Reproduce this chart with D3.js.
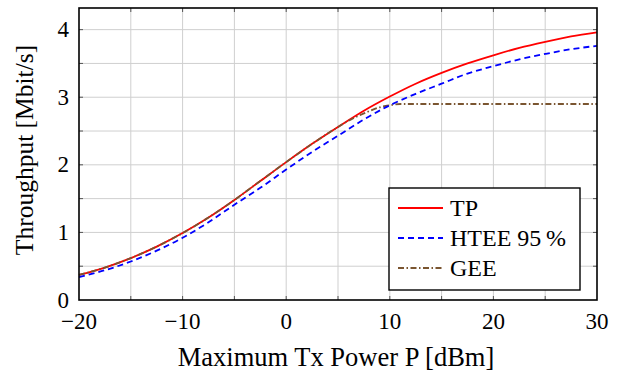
<!DOCTYPE html>
<html>
<head>
<meta charset="utf-8">
<script src="https://cdn.jsdelivr.net/npm/d3@7"></script>
</head>
<body style="margin:0">
<svg width="622" height="372"></svg>
<script>
var powerTP = [-20, -17.5, -15, -12.5, -10, -7.5, -5, -2.5, 0, 2.5, 5, 7.5, 10, 12.5, 15, 17.5, 20, 22.5, 25, 27.5, 30];
var throughputTP = [0.37, 0.48, 0.62, 0.79, 0.99, 1.22, 1.48, 1.76, 2.04, 2.31, 2.56, 2.80, 3.01, 3.20, 3.36, 3.50, 3.62, 3.73, 3.82, 3.90, 3.96];
var throughputHTEE = [0.34, 0.44, 0.57, 0.73, 0.92, 1.15, 1.41, 1.66, 1.93, 2.19, 2.43, 2.67, 2.88, 3.05, 3.20, 3.35, 3.46, 3.56, 3.64, 3.71, 3.76];
var powerGEE = [-20, -17.5, -15, -12.5, -10, -7.5, -5, -2.5, 0, 2.5, 5, 6, 7.5, 9, 10, 11, 12.5, 15, 20, 25, 30];
var throughputGEE = [0.37, 0.48, 0.62, 0.79, 0.99, 1.22, 1.48, 1.76, 2.04, 2.31, 2.56, 2.65, 2.76, 2.85, 2.88, 2.90, 2.90, 2.90, 2.90, 2.90, 2.90];

var seriesNames = ["TP", "HTEE 95\u2009%", "GEE"];
var xTicks = [-20, -10, 0, 10, 20, 30];
var yTicks = [0, 1, 2, 3, 4];

var svg = d3.select("svg");
var serif = "'Liberation Serif', monospace";

var xScale = d3.scaleLinear().domain([-20, 30]).range([79, 597]);
var yScale = d3.scaleLinear().domain([0, 4.32]).range([300, 8]);

drawGrid();
drawLines();
drawFrame();
drawLegend();

function drawGrid() {
  var xGrid = d3.range(-15, 30, 5);
  var yGrid = d3.range(0.5, 4.32, 0.5);

  svg.append("g").selectAll("line")
    .data(xGrid).enter()
    .append("line")
    .attr("x1", function (d) { return xScale(d); })
    .attr("x2", function (d) { return xScale(d); })
    .attr("y1", yScale.range()[0])
    .attr("y2", yScale.range()[1])
    .style("stroke", "#cfcfcf")
    .style("stroke-width", "1px");

  svg.append("g").selectAll("line")
    .data(yGrid).enter()
    .append("line")
    .attr("x1", xScale.range()[0])
    .attr("x2", xScale.range()[1])
    .attr("y1", function (d) { return yScale(d); })
    .attr("y2", function (d) { return yScale(d); })
    .style("stroke", "#cfcfcf")
    .style("stroke-width", "1px");

  // inward ticks on all four sides
  var ticks = svg.append("g").style("stroke", "#555").style("stroke-width", "1px");
  xGrid.forEach(function (d) {
    ticks.append("line").attr("x1", xScale(d)).attr("x2", xScale(d))
      .attr("y1", yScale(0)).attr("y2", yScale(0) - 4);
    ticks.append("line").attr("x1", xScale(d)).attr("x2", xScale(d))
      .attr("y1", yScale(4.32)).attr("y2", yScale(4.32) + 4);
  });
  yGrid.forEach(function (d) {
    ticks.append("line").attr("y1", yScale(d)).attr("y2", yScale(d))
      .attr("x1", xScale(-20)).attr("x2", xScale(-20) + 4);
    ticks.append("line").attr("y1", yScale(d)).attr("y2", yScale(d))
      .attr("x1", xScale(30)).attr("x2", xScale(30) - 4);
  });
}

function drawLines() {
  var line = d3.line()
    .x(function (d) { return xScale(d[0]); })
    .y(function (d) { return yScale(d[1]); })
    .curve(d3.curveMonotoneX);

  svg.append("path").datum(d3.zip(powerTP, throughputTP)).attr("d", line)
    .style("fill", "none").style("stroke", "#f00").style("stroke-width", "1.8px");
  svg.append("path").datum(d3.zip(powerGEE, throughputGEE)).attr("d", line)
    .style("fill", "none").style("stroke", "#7a5530").style("stroke-width", "1.8px")
    .style("stroke-dasharray", "6,2.5,1.5,2.5");
  svg.append("path").datum(d3.zip(powerTP, throughputHTEE)).attr("d", line)
    .style("fill", "none").style("stroke", "#00f").style("stroke-width", "1.8px")
    .style("stroke-dasharray", "6,4");
}

function drawFrame() {
  svg.append("rect")
    .attr("x", xScale(-20)).attr("y", yScale(4.32))
    .attr("width", xScale(30) - xScale(-20))
    .attr("height", yScale(0) - yScale(4.32))
    .style("fill", "none").style("stroke", "#000").style("stroke-width", "1.6px");

  svg.append("g").selectAll("text")
    .data(xTicks).enter()
    .append("text")
    .attr("x", function (d) { return xScale(d); })
    .attr("y", 329)
    .attr("text-anchor", "middle")
    .style("font-family", serif)
    .style("font-size", "23px")
    .text(function (d) { return d < 0 ? "\u2212" + Math.abs(d) : d; });

  svg.append("g").selectAll("text")
    .data(yTicks).enter()
    .append("text")
    .attr("x", 69)
    .attr("y", function (d) { return yScale(d) + 7.5; })
    .attr("text-anchor", "end")
    .style("font-family", serif)
    .style("font-size", "23px")
    .text(function (d) { return d; });

  svg.append("text")
    .attr("x", 336)
    .attr("y", 366)
    .attr("text-anchor", "middle")
    .style("font-family", serif)
    .style("font-size", "26.5px")
    .text("Maximum Tx Power P [dBm]");

  svg.append("text")
    .attr("transform", "translate(33,150) rotate(-90)")
    .attr("text-anchor", "middle")
    .style("font-family", serif)
    .style("font-size", "25.5px")
    .text("Throughput [Mbit/s]");
}

function drawLegend() {
  var g = svg.append("g").attr("transform", "translate(389,188)");
  g.append("rect").attr("width", 191).attr("height", 102)
    .style("fill", "#fff").style("stroke", "#000").style("stroke-width", "1.4px");

  var styles = [
    { color: "#f00", dash: null },
    { color: "#00f", dash: "6,4" },
    { color: "#7a5530", dash: "6,2.5,1.5,2.5" }
  ];

  seriesNames.forEach(function (name, i) {
    var y = 20 + i * 30;
    g.append("line")
      .attr("x1", 9).attr("x2", 54).attr("y1", y).attr("y2", y)
      .style("stroke", styles[i].color).style("stroke-width", "1.8px")
      .style("stroke-dasharray", styles[i].dash);
    g.append("text")
      .attr("x", 61).attr("y", y + 8)
      .style("font-family", serif)
      .style("font-size", "24px")
      .text(name);
  });
}
</script>
</body>
</html>
